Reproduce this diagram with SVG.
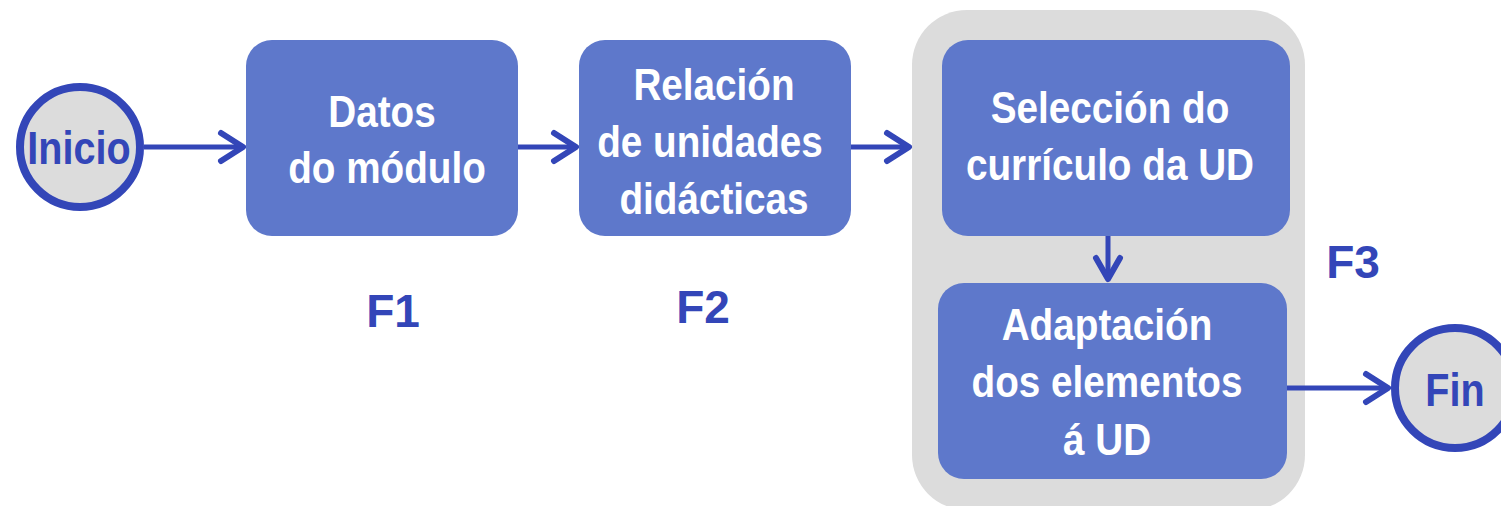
<svg xmlns="http://www.w3.org/2000/svg" width="1501" height="506" viewBox="0 0 1501 506">
<defs>
<style>
.box{fill:#5e78cb;}
.btxt{font-family:"Liberation Sans",Arial,sans-serif;font-weight:bold;font-size:45px;fill:#ffffff;text-anchor:middle;}
.ctxt{font-family:"Liberation Sans",Arial,sans-serif;font-weight:bold;font-size:46px;fill:#3346b8;text-anchor:middle;}
.ftxt{font-family:"Liberation Sans",Arial,sans-serif;font-weight:bold;font-size:46px;fill:#3346b8;text-anchor:middle;}
.circ{fill:#dcdcdc;stroke:#3346b8;stroke-width:8;}
.conn{fill:none;stroke:#3346b8;stroke-width:5;}
.head{fill:none;stroke:#3346b8;stroke-width:6;stroke-linecap:round;stroke-linejoin:round;}
</style>
</defs>
<rect width="1501" height="506" fill="#ffffff"/>
<g id="F3-group">
<rect x="912" y="10" width="393" height="500" rx="55" ry="55" fill="#dcdcdc"/>
<text class="ftxt" x="1353" y="278">F3</text>
</g>
<g id="connectors">
<path class="conn" d="M144 147 H242"/>
<path class="head" d="M221 133 L243 147 L221 161"/>
<path class="conn" d="M518 147 H575"/>
<path class="head" d="M554 133 L576 147 L554 161"/>
<path class="conn" d="M851 147 H908"/>
<path class="head" d="M887 133 L909 147 L887 161"/>
<path class="conn" d="M1108 236 V278"/>
<path class="head" d="M1096 258 L1108 279 L1120 258"/>
<path class="conn" d="M1287 388 H1387"/>
<path class="head" d="M1366 374 L1388 388 L1366 402"/>
</g>
<g id="inicio">
<circle class="circ" cx="80" cy="147" r="60"/>
<text class="ctxt" transform="matrix(0.86 0 0 1 79 0)" x="0" y="164">Inicio</text>
</g>
<g id="f1">
<rect class="box" x="246" y="40" width="272" height="196" rx="26" ry="26"/>
<text class="btxt" transform="matrix(0.86 0 0 1 382 0)" x="0" y="127">Datos</text>
<text class="btxt" transform="matrix(0.86 0 0 1 387 0)" x="0" y="183">do módulo</text>
<text class="ftxt" x="393" y="327">F1</text>
</g>
<g id="f2">
<rect class="box" x="579" y="40" width="272" height="196" rx="26" ry="26"/>
<text class="btxt" transform="matrix(0.86 0 0 1 714 0)" x="0" y="100">Relación</text>
<text class="btxt" transform="matrix(0.86 0 0 1 710 0)" x="0" y="157">de unidades</text>
<text class="btxt" transform="matrix(0.86 0 0 1 714 0)" x="0" y="214">didácticas</text>
<text class="ftxt" x="703" y="323">F2</text>
</g>
<g id="seleccion">
<rect class="box" x="942" y="40" width="348" height="196" rx="26" ry="26"/>
<text class="btxt" transform="matrix(0.86 0 0 1 1110 0)" x="0" y="123">Selección do</text>
<text class="btxt" transform="matrix(0.86 0 0 1 1110 0)" x="0" y="180">currículo da UD</text>
</g>
<g id="adaptacion">
<rect class="box" x="938" y="283" width="349" height="196" rx="26" ry="26"/>
<text class="btxt" transform="matrix(0.86 0 0 1 1107 0)" x="0" y="340">Adaptación</text>
<text class="btxt" transform="matrix(0.86 0 0 1 1107 0)" x="0" y="397">dos elementos</text>
<text class="btxt" transform="matrix(0.86 0 0 1 1107 0)" x="0" y="455">á UD</text>
</g>
<g id="fin">
<circle class="circ" cx="1455" cy="388" r="60"/>
<text class="ctxt" transform="matrix(0.86 0 0 1 1455 0)" x="0" y="406">Fin</text>
</g>
</svg>
